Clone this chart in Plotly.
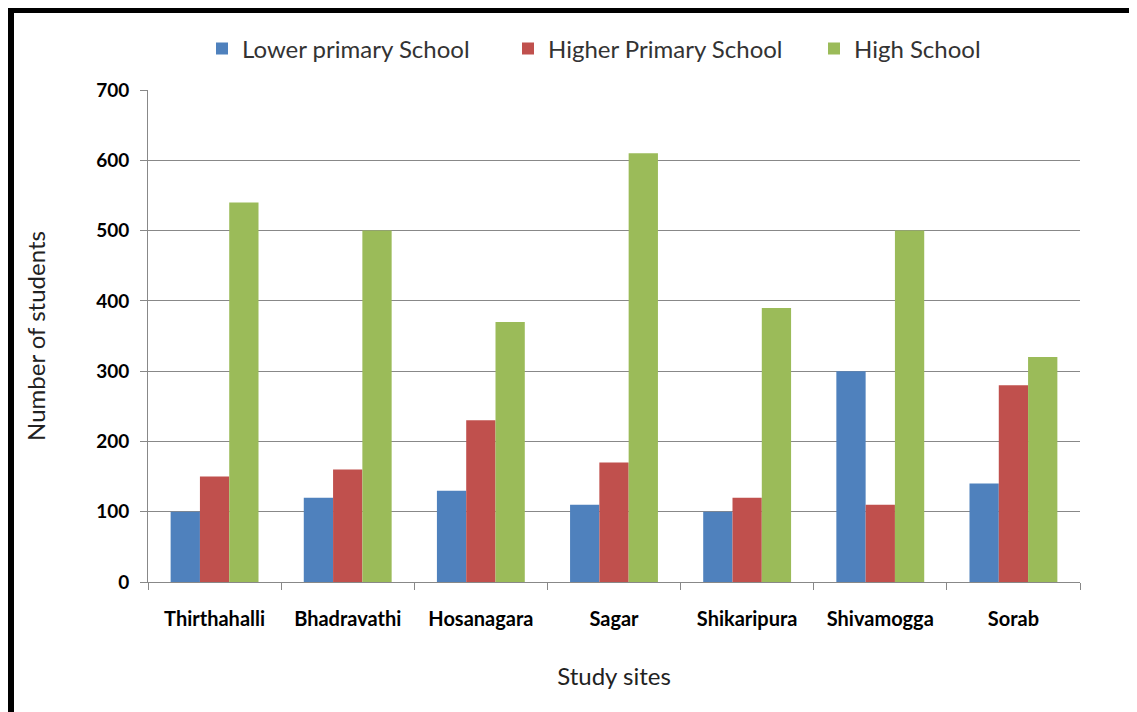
import plotly.graph_objects as go

sites = ["Thirthahalli", "Bhadravathi", "Hosanagara", "Sagar", "Shikaripura", "Shivamogga", "Sorab"]
lower_primary = [100, 120, 130, 110, 100, 300, 140]
higher_primary = [150, 160, 230, 170, 120, 110, 280]
high_school = [540, 500, 370, 610, 390, 500, 320]
series_names = ["Lower primary School", "Higher Primary School", "High School"]
colors = ["#4F81BD", "#C0504D", "#9BBB59"]
y_ticks = [0, 100, 200, 300, 400, 500, 600, 700]

# page has an 8px body margin at left/top; compensate so the plot lands where the reference has it
OFF = 8
W, H = 1137 - OFF, 712 - OFF
L, R, T, B = 148 - OFF, 57, 90 - OFF, 130

fig = go.Figure()
for name, vals, c in zip(series_names, [lower_primary, higher_primary, high_school], colors):
    fig.add_trace(go.Bar(x=sites, y=vals, name=name, marker=dict(color=c, line=dict(width=0))))

pw = W - L - R
ph = H - T - B
# black frame on left and top
x_left = (11 - OFF - L) / pw
y_top = 1 + (T - (10.5 - OFF)) / ph
y_bot = -(B + 5) / ph
x_right = 1 + (R + 5) / pw
fig.add_shape(type="line", xref="paper", yref="paper", x0=x_left, x1=x_left, y0=y_bot, y1=y_top + 0.01,
              line=dict(color="black", width=6), layer="above")
fig.add_shape(type="line", xref="paper", yref="paper", x0=x_left, x1=x_right, y0=y_top, y1=y_top,
              line=dict(color="black", width=5), layer="above")

fig.update_layout(
    width=W, height=H,
    margin=dict(l=L, r=R, t=T, b=B, autoexpand=False),
    paper_bgcolor="white", plot_bgcolor="white",
    barmode="group", bargap=0.34, bargroupgap=0,
    font=dict(family="Lato, 'Open Sans', sans-serif", color="#000"),
    legend=dict(orientation="h", xref="container", x=(202 - OFF) / W, xanchor="left",
                yref="container", y=1 - (49 - OFF) / H, yanchor="middle",
                font=dict(size=24, color="#333"), itemwidth=30, traceorder="normal",
                entrywidth=261, entrywidthmode="pixels", bgcolor="rgba(0,0,0,0)"),
    showlegend=True,
)
fig.update_xaxes(
    showline=True, linecolor="#888", linewidth=1,
    ticks="outside", tickson="boundaries", ticklen=7, tickcolor="#888",
    tickfont=dict(size=20, family="Lato", color="#000", weight="bold"),
    ticklabelstandoff=19,
    title=dict(text="Study sites", font=dict(size=24, color="#222"), standoff=39),
    showgrid=False,
)
fig.update_yaxes(
    range=[0, 700], tickvals=y_ticks,
    showline=True, linecolor="#888", linewidth=1,
    ticks="outside", ticklen=7, tickcolor="#888",
    showgrid=True, gridcolor="#888", gridwidth=1,
    zeroline=False,
    tickfont=dict(size=19, family="Lato", color="#000", weight="bold"),
    ticklabelstandoff=7,
    title=dict(text="Number of students", font=dict(size=24, color="#222"), standoff=43),
)

fig.write_html("out.html")
